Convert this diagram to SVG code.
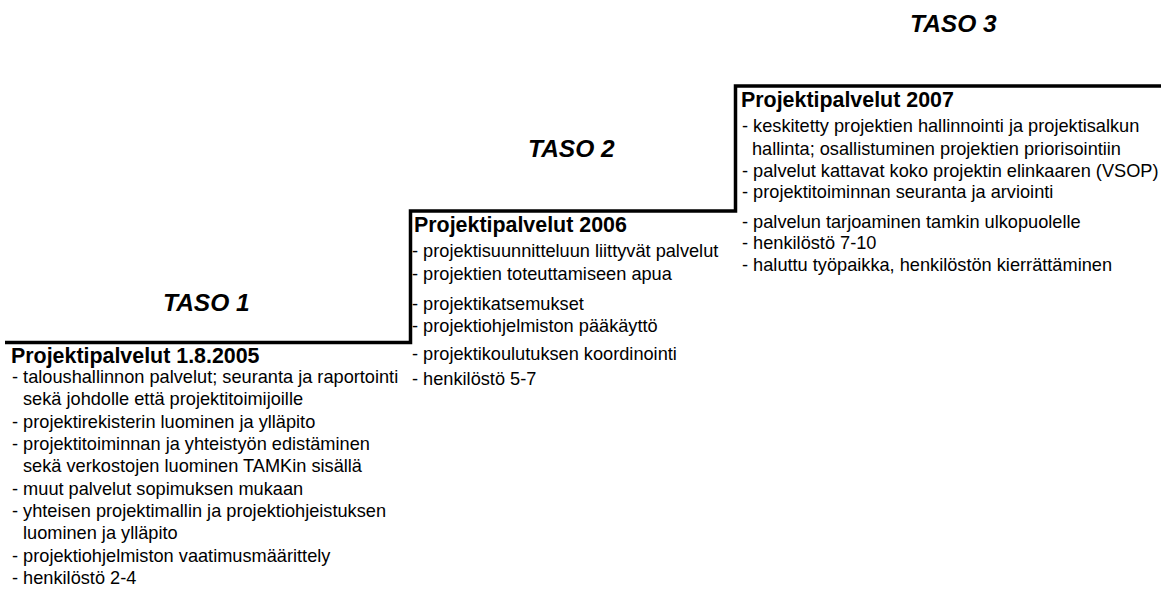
<svg xmlns="http://www.w3.org/2000/svg" width="1161" height="591" viewBox="0 0 1161 591">
<style>
text{font-family:"Liberation Sans",Arial,Helvetica,sans-serif;fill:#000}
.t{font-size:21.4px;font-weight:bold}
.b{font-size:18.2px}
.lv{font-size:24.5px;font-weight:bold;font-style:italic}
.step{fill:none;stroke:#000;stroke-width:3.5;stroke-linejoin:miter}
</style>
<rect width="1161" height="591" fill="#fff"/>
<g id="connectors">
<polyline class="step" points="5,342.5 410.5,342.5 410.5,211 735.5,211 735.5,86 1161,86"/>
</g>
<g id="taso1">
<text class="lv" x="163" y="311">TASO 1</text>
<text class="t" x="11" y="363">Projektipalvelut 1.8.2005</text>
<text class="b" x="12" y="383">- taloushallinnon palvelut; seuranta ja raportointi</text>
<text class="b" x="23" y="405">sekä johdolle että projektitoimijoille</text>
<text class="b" x="12" y="428">- projektirekisterin luominen ja ylläpito</text>
<text class="b" x="12" y="450">- projektitoiminnan ja yhteistyön edistäminen</text>
<text class="b" x="23" y="472">sekä verkostojen luominen TAMKin sisällä</text>
<text class="b" x="12" y="495">- muut palvelut sopimuksen mukaan</text>
<text class="b" x="12" y="517">- yhteisen projektimallin ja projektiohjeistuksen</text>
<text class="b" x="23" y="539">luominen ja ylläpito</text>
<text class="b" x="12" y="562">- projektiohjelmiston vaatimusmäärittely</text>
<text class="b" x="12" y="584">- henkilöstö 2-4</text>
</g>
<g id="taso2">
<text class="lv" x="528" y="157">TASO 2</text>
<text class="t" x="414" y="232">Projektipalvelut 2006</text>
<text class="b" x="412" y="257">- projektisuunnitteluun liittyvät palvelut</text>
<text class="b" x="412" y="280">- projektien toteuttamiseen apua</text>
<text class="b" x="412" y="310">- projektikatsemukset</text>
<text class="b" x="412" y="332">- projektiohjelmiston pääkäyttö</text>
<text class="b" x="412" y="360">- projektikoulutuksen koordinointi</text>
<text class="b" x="412" y="385">- henkilöstö 5-7</text>
</g>
<g id="taso3">
<text class="lv" x="910" y="32">TASO 3</text>
<text class="t" x="741" y="107">Projektipalvelut 2007</text>
<text class="b" x="742" y="132">- keskitetty projektien hallinnointi ja projektisalkun</text>
<text class="b" x="752" y="155">hallinta; osallistuminen projektien priorisointiin</text>
<text class="b" x="742" y="177">- palvelut kattavat koko projektin elinkaaren (VSOP)</text>
<text class="b" x="742" y="198">- projektitoiminnan seuranta ja arviointi</text>
<text class="b" x="742" y="228">- palvelun tarjoaminen tamkin ulkopuolelle</text>
<text class="b" x="742" y="249">- henkilöstö 7-10</text>
<text class="b" x="742" y="271">- haluttu työpaikka, henkilöstön kierrättäminen</text>
</g>
</svg>
